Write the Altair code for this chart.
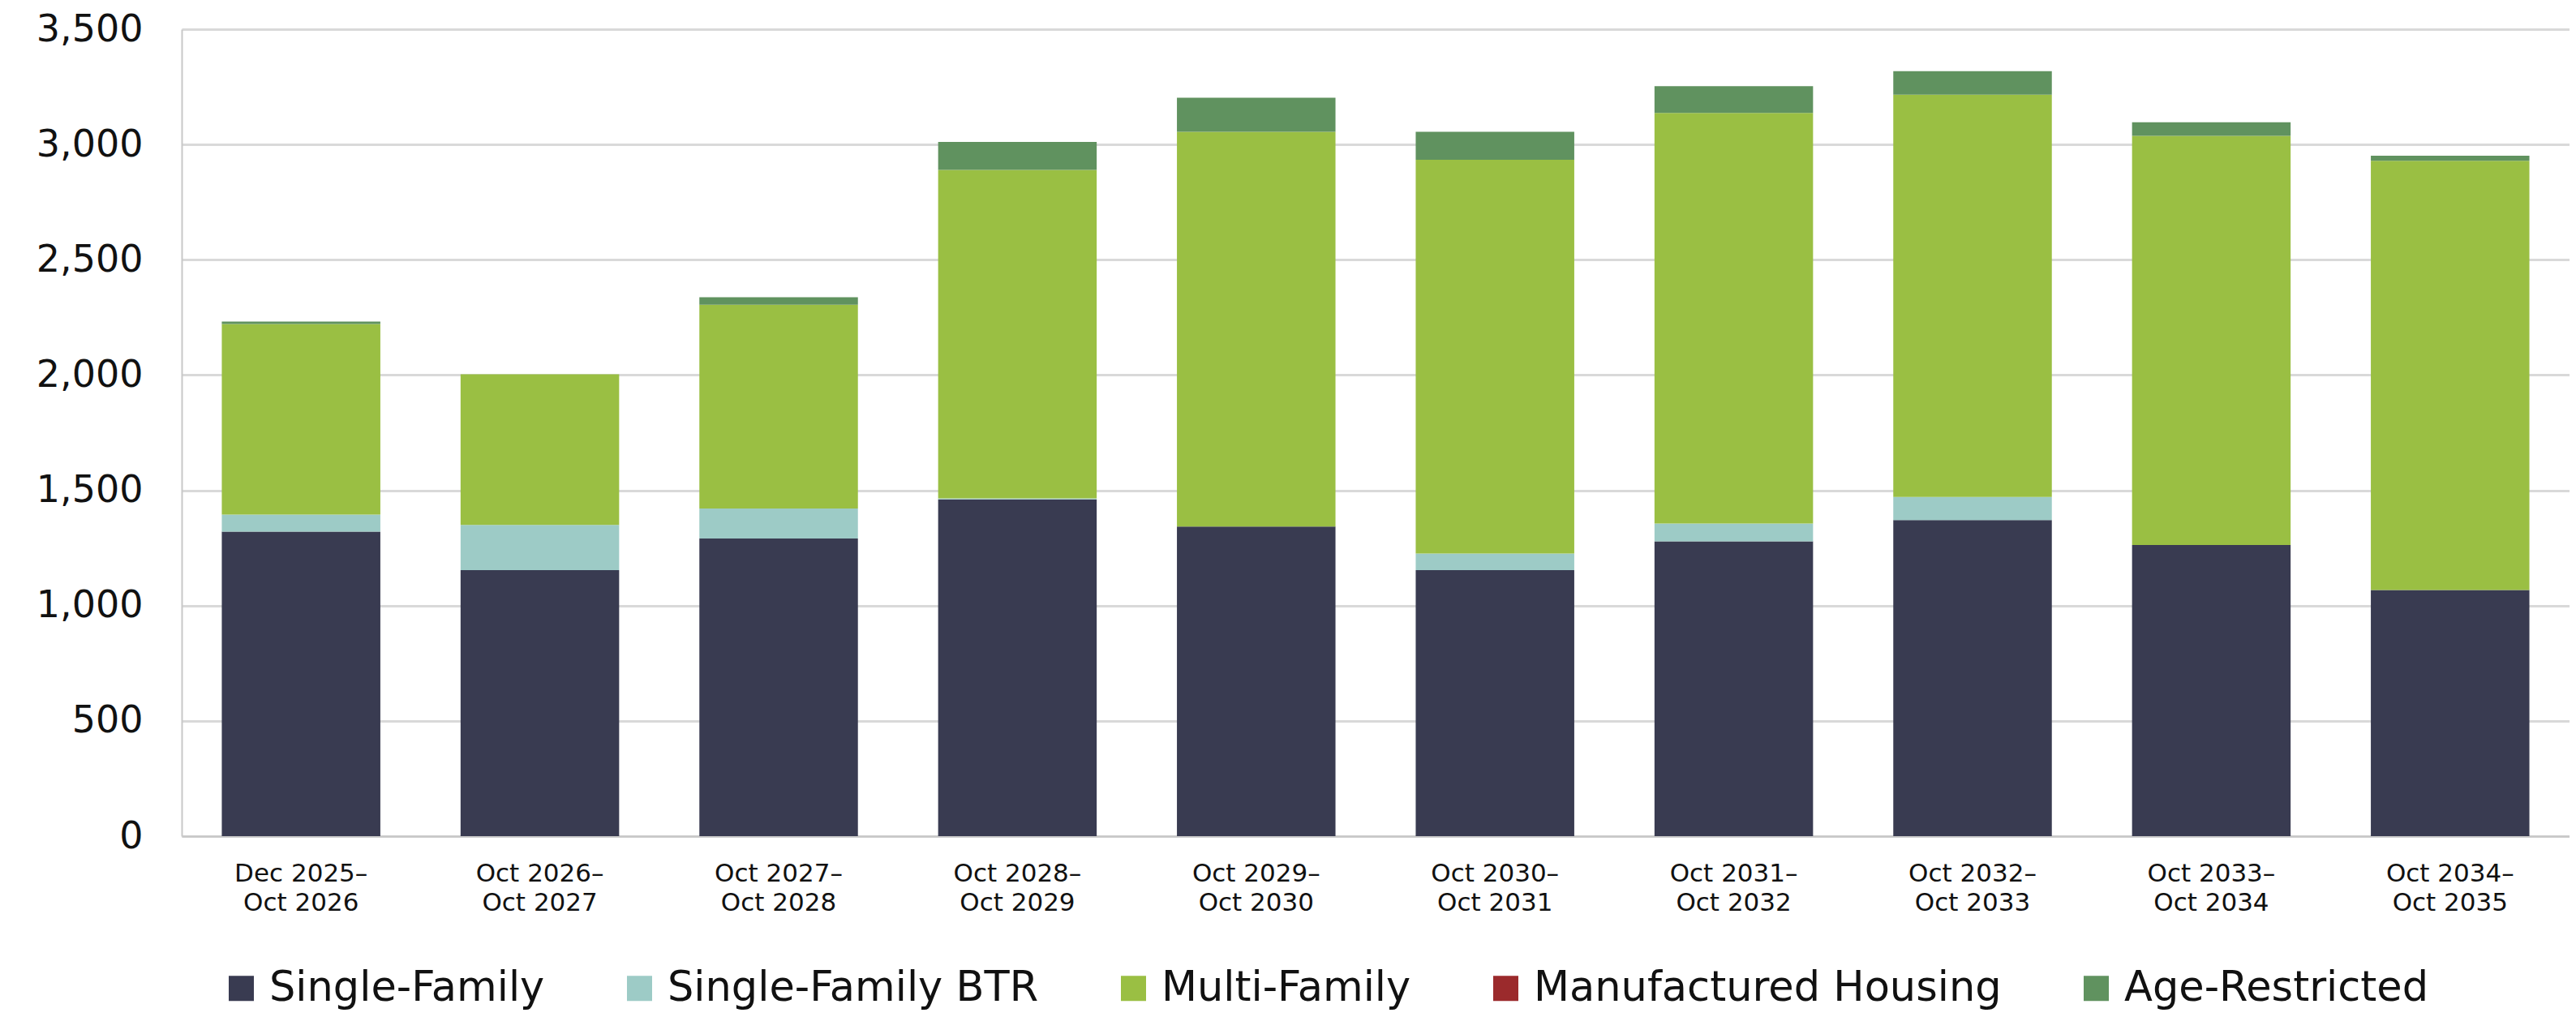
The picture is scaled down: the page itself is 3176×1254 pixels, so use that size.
import altair as alt
import pandas as pd

periods = [
    "Dec 2025–Oct 2026", "Oct 2026–Oct 2027", "Oct 2027–Oct 2028",
    "Oct 2028–Oct 2029", "Oct 2029–Oct 2030", "Oct 2030–Oct 2031",
    "Oct 2031–Oct 2032", "Oct 2032–Oct 2033", "Oct 2033–Oct 2034",
    "Oct 2034–Oct 2035",
]
series_names = ["Single-Family", "Single-Family BTR", "Multi-Family",
                "Manufactured Housing", "Age-Restricted"]
single_family = [1321, 1154, 1291, 1461, 1343, 1154, 1279, 1371, 1263, 1068]
single_family_btr = [74, 196, 130, 4, 0, 72, 77, 100, 0, 0]
multi_family = [826, 653, 884, 1425, 1712, 1708, 1781, 1745, 1774, 1861]
manufactured = [0, 0, 0, 0, 0, 0, 0, 0, 0, 0]
age_restricted = [11, 0, 32, 121, 148, 121, 116, 102, 59, 22]
y_ticks = [0, 500, 1000, 1500, 2000, 2500, 3000, 3500]
colors = ["#393B51", "#9DCBC6", "#9ABF43", "#9B2A2C", "#60925F"]

series_values = [single_family, single_family_btr, multi_family,
                 manufactured, age_restricted]
rows = []
for s_idx, (name, vals) in enumerate(zip(series_names, series_values)):
    for p, v in zip(periods, vals):
        rows.append({"period": p, "series": name, "order": s_idx, "value": v})
df = pd.DataFrame(rows)

chart = alt.Chart(df).mark_bar().encode(
    x=alt.X("period:N", sort=periods, title=None,
            scale=alt.Scale(paddingInner=0.336, paddingOuter=0.168),
            axis=alt.Axis(labelAngle=0, ticks=False, labelPadding=31,
                          labelFontSize=31, labelLineHeight=36,
                          labelExpr="[split(datum.value, '–')[0] + '–', split(datum.value, '–')[1]]",
                          domainColor="#C8C8C8", domainWidth=2.5,
                          labelColor="#111111")),
    y=alt.Y("value:Q", stack="zero", title=None,
            scale=alt.Scale(domain=[0, 3500], nice=False),
            axis=alt.Axis(values=y_ticks,
                          format=",.0f", ticks=False, labelPadding=48,
                          labelFontSize=46, labelColor="#111111",
                          domainColor="#C8C8C8", domainWidth=2,
                          gridColor="#D9D9D9", gridWidth=3)),
    color=alt.Color("series:N", sort=series_names,
                    scale=alt.Scale(domain=series_names, range=colors),
                    legend=alt.Legend(title=None, orient="none",
                                      legendX=48, legendY=1157,
                                      direction="horizontal", columns=5,
                                      symbolType="square", symbolSize=961,
                                      symbolStrokeWidth=0, symbolOpacity=1,
                                      labelFontSize=51, labelOffset=9,
                                      labelLimit=0, columnPadding=91,
                                      padding=0, labelColor="#111111")),
    order=alt.Order("order:Q", sort="ascending"),
).properties(
    width=2944, height=995,
    autosize=alt.AutoSizeParams(type="none"),
    padding={"left": 216, "top": 28, "right": 0, "bottom": 215},
).configure(
    font="DejaVu Sans",
).configure_view(
    stroke=None,
)

chart.save("out.html", embed_options={"renderer": "svg", "actions": False})
